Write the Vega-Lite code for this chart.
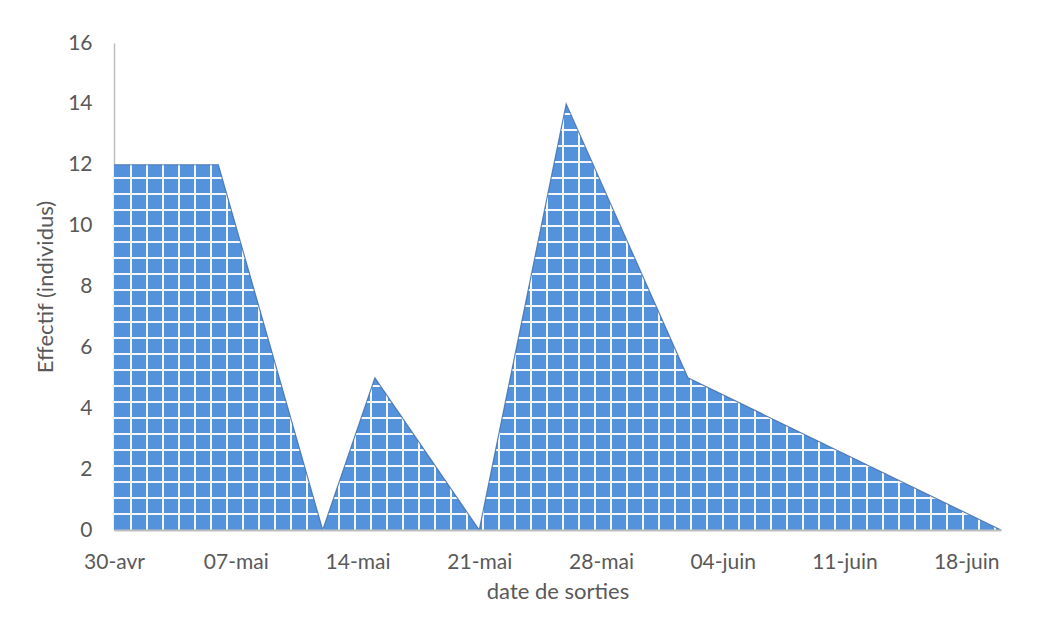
{
  "$schema": "https://vega.github.io/schema/vega-lite/v6.json",
  "autosize": "none",
  "width": 887,
  "height": 487,
  "padding": {"left": 114, "top": 43, "right": 41, "bottom": 89},
  "background": "white",
  "config": {
    "view": {"stroke": null},
    "font": "Lato",
    "axis": {
      "labelFont": "Lato",
      "labelFontSize": 21,
      "labelColor": "#595959",
      "titleFont": "Lato",
      "titleFontSize": 22,
      "titleFontWeight": "normal",
      "titleColor": "#595959",
      "ticks": false,
      "grid": false,
      "domainColor": "#BFBFBF"
    }
  },
  "data": {
    "values": [
      {"date": "2021-04-30", "effectif": 12},
      {"date": "2021-05-06", "effectif": 12},
      {"date": "2021-05-12", "effectif": 0},
      {"date": "2021-05-15", "effectif": 5},
      {"date": "2021-05-21", "effectif": 0},
      {"date": "2021-05-26", "effectif": 14},
      {"date": "2021-06-02", "effectif": 5},
      {"date": "2021-06-20", "effectif": 0}
    ]
  },
  "encoding": {
    "x": {
      "field": "date",
      "type": "temporal",
      "title": "date de sorties",
      "scale": {
        "type": "utc",
        "nice": false,
        "domain": [
          {"year": 2021, "month": 4, "date": 30, "utc": true},
          {"year": 2021, "month": 6, "date": 20, "utc": true}
        ]
      },
      "axis": {
        "values": [
          {"year": 2021, "month": 4, "date": 30, "utc": true},
          {"year": 2021, "month": 5, "date": 7, "utc": true},
          {"year": 2021, "month": 5, "date": 14, "utc": true},
          {"year": 2021, "month": 5, "date": 21, "utc": true},
          {"year": 2021, "month": 5, "date": 28, "utc": true},
          {"year": 2021, "month": 6, "date": 4, "utc": true},
          {"year": 2021, "month": 6, "date": 11, "utc": true},
          {"year": 2021, "month": 6, "date": 18, "utc": true}
        ],
        "labelExpr": "utcFormat(datum.value, '%d') + '-' + ['janv','févr','mars','avr','mai','juin','juil','août','sept','oct','nov','déc'][utcmonth(datum.value)]",
        "labelFlush": false,
        "labelOverlap": false,
        "labelPadding": 21,
        "titlePadding": 9,
        "domainWidth": 2,
        "zindex": 1
      }
    },
    "y": {
      "field": "effectif",
      "type": "quantitative",
      "title": "Effectif (individus)",
      "scale": {"domain": [0, 16], "nice": false},
      "axis": {
        "values": [0, 2, 4, 6, 8, 10, 12, 14, 16],
        "labelPadding": 22,
        "titlePadding": 10,
        "domainWidth": 1.5
      }
    }
  },
  "layer": [
    {
      "mark": {
        "type": "area",
        "interpolate": "linear",
        "fill": {
          "gradient": "linear",
          "x1": 0, "y1": 1, "x2": 0, "y2": -0.051334,
          "stops": [
            {"offset": 0, "color": "#5592DC"},
            {"offset": 0.033482, "color": "#5592DC"}, {"offset": 0.033482, "color": "#F4F7FB"}, {"offset": 0.037946, "color": "#F4F7FB"}, {"offset": 0.037946, "color": "#5592DC"},
            {"offset": 0.069197, "color": "#5592DC"}, {"offset": 0.069197, "color": "#F4F7FB"}, {"offset": 0.073661, "color": "#F4F7FB"}, {"offset": 0.073661, "color": "#5592DC"},
            {"offset": 0.104911, "color": "#5592DC"}, {"offset": 0.104911, "color": "#F4F7FB"}, {"offset": 0.109375, "color": "#F4F7FB"}, {"offset": 0.109375, "color": "#5592DC"},
            {"offset": 0.140625, "color": "#5592DC"}, {"offset": 0.140625, "color": "#F4F7FB"}, {"offset": 0.145089, "color": "#F4F7FB"}, {"offset": 0.145089, "color": "#5592DC"},
            {"offset": 0.176339, "color": "#5592DC"}, {"offset": 0.176339, "color": "#F4F7FB"}, {"offset": 0.180804, "color": "#F4F7FB"}, {"offset": 0.180804, "color": "#5592DC"},
            {"offset": 0.212054, "color": "#5592DC"}, {"offset": 0.212054, "color": "#F4F7FB"}, {"offset": 0.216518, "color": "#F4F7FB"}, {"offset": 0.216518, "color": "#5592DC"},
            {"offset": 0.247768, "color": "#5592DC"}, {"offset": 0.247768, "color": "#F4F7FB"}, {"offset": 0.252232, "color": "#F4F7FB"}, {"offset": 0.252232, "color": "#5592DC"},
            {"offset": 0.283482, "color": "#5592DC"}, {"offset": 0.283482, "color": "#F4F7FB"}, {"offset": 0.287946, "color": "#F4F7FB"}, {"offset": 0.287946, "color": "#5592DC"},
            {"offset": 0.319197, "color": "#5592DC"}, {"offset": 0.319197, "color": "#F4F7FB"}, {"offset": 0.323661, "color": "#F4F7FB"}, {"offset": 0.323661, "color": "#5592DC"},
            {"offset": 0.354911, "color": "#5592DC"}, {"offset": 0.354911, "color": "#F4F7FB"}, {"offset": 0.359375, "color": "#F4F7FB"}, {"offset": 0.359375, "color": "#5592DC"},
            {"offset": 0.390625, "color": "#5592DC"}, {"offset": 0.390625, "color": "#F4F7FB"}, {"offset": 0.395089, "color": "#F4F7FB"}, {"offset": 0.395089, "color": "#5592DC"},
            {"offset": 0.426339, "color": "#5592DC"}, {"offset": 0.426339, "color": "#F4F7FB"}, {"offset": 0.430804, "color": "#F4F7FB"}, {"offset": 0.430804, "color": "#5592DC"},
            {"offset": 0.462054, "color": "#5592DC"}, {"offset": 0.462054, "color": "#F4F7FB"}, {"offset": 0.466518, "color": "#F4F7FB"}, {"offset": 0.466518, "color": "#5592DC"},
            {"offset": 0.497768, "color": "#5592DC"}, {"offset": 0.497768, "color": "#F4F7FB"}, {"offset": 0.502232, "color": "#F4F7FB"}, {"offset": 0.502232, "color": "#5592DC"},
            {"offset": 0.533482, "color": "#5592DC"}, {"offset": 0.533482, "color": "#F4F7FB"}, {"offset": 0.537946, "color": "#F4F7FB"}, {"offset": 0.537946, "color": "#5592DC"},
            {"offset": 0.569197, "color": "#5592DC"}, {"offset": 0.569197, "color": "#F4F7FB"}, {"offset": 0.573661, "color": "#F4F7FB"}, {"offset": 0.573661, "color": "#5592DC"},
            {"offset": 0.604911, "color": "#5592DC"}, {"offset": 0.604911, "color": "#F4F7FB"}, {"offset": 0.609375, "color": "#F4F7FB"}, {"offset": 0.609375, "color": "#5592DC"},
            {"offset": 0.640625, "color": "#5592DC"}, {"offset": 0.640625, "color": "#F4F7FB"}, {"offset": 0.645089, "color": "#F4F7FB"}, {"offset": 0.645089, "color": "#5592DC"},
            {"offset": 0.676339, "color": "#5592DC"}, {"offset": 0.676339, "color": "#F4F7FB"}, {"offset": 0.680804, "color": "#F4F7FB"}, {"offset": 0.680804, "color": "#5592DC"},
            {"offset": 0.712054, "color": "#5592DC"}, {"offset": 0.712054, "color": "#F4F7FB"}, {"offset": 0.716518, "color": "#F4F7FB"}, {"offset": 0.716518, "color": "#5592DC"},
            {"offset": 0.747768, "color": "#5592DC"}, {"offset": 0.747768, "color": "#F4F7FB"}, {"offset": 0.752232, "color": "#F4F7FB"}, {"offset": 0.752232, "color": "#5592DC"},
            {"offset": 0.783482, "color": "#5592DC"}, {"offset": 0.783482, "color": "#F4F7FB"}, {"offset": 0.787946, "color": "#F4F7FB"}, {"offset": 0.787946, "color": "#5592DC"},
            {"offset": 0.819197, "color": "#5592DC"}, {"offset": 0.819197, "color": "#F4F7FB"}, {"offset": 0.823661, "color": "#F4F7FB"}, {"offset": 0.823661, "color": "#5592DC"},
            {"offset": 0.854911, "color": "#5592DC"}, {"offset": 0.854911, "color": "#F4F7FB"}, {"offset": 0.859375, "color": "#F4F7FB"}, {"offset": 0.859375, "color": "#5592DC"},
            {"offset": 0.890625, "color": "#5592DC"}, {"offset": 0.890625, "color": "#F4F7FB"}, {"offset": 0.895089, "color": "#F4F7FB"}, {"offset": 0.895089, "color": "#5592DC"},
            {"offset": 0.926339, "color": "#5592DC"}, {"offset": 0.926339, "color": "#F4F7FB"}, {"offset": 0.930804, "color": "#F4F7FB"}, {"offset": 0.930804, "color": "#5592DC"},
            {"offset": 1, "color": "#5592DC"}
          ]
        }
      }
    },
    {
      "mark": {
        "type": "area",
        "interpolate": "linear",
        "fill": {
          "gradient": "linear",
          "x1": 0, "y1": 0, "x2": 1.010147, "y2": 0,
          "stops": [
            {"offset": 0, "color": "rgba(244,247,251,0)"},
            {"offset": 0.017857, "color": "rgba(244,247,251,0)"}, {"offset": 0.017857, "color": "#F4F7FB"}, {"offset": 0.020089, "color": "#F4F7FB"}, {"offset": 0.020089, "color": "rgba(244,247,251,0)"},
            {"offset": 0.035714, "color": "rgba(244,247,251,0)"}, {"offset": 0.035714, "color": "#F4F7FB"}, {"offset": 0.037946, "color": "#F4F7FB"}, {"offset": 0.037946, "color": "rgba(244,247,251,0)"},
            {"offset": 0.053571, "color": "rgba(244,247,251,0)"}, {"offset": 0.053571, "color": "#F4F7FB"}, {"offset": 0.055804, "color": "#F4F7FB"}, {"offset": 0.055804, "color": "rgba(244,247,251,0)"},
            {"offset": 0.071429, "color": "rgba(244,247,251,0)"}, {"offset": 0.071429, "color": "#F4F7FB"}, {"offset": 0.073661, "color": "#F4F7FB"}, {"offset": 0.073661, "color": "rgba(244,247,251,0)"},
            {"offset": 0.089286, "color": "rgba(244,247,251,0)"}, {"offset": 0.089286, "color": "#F4F7FB"}, {"offset": 0.091518, "color": "#F4F7FB"}, {"offset": 0.091518, "color": "rgba(244,247,251,0)"},
            {"offset": 0.107143, "color": "rgba(244,247,251,0)"}, {"offset": 0.107143, "color": "#F4F7FB"}, {"offset": 0.109375, "color": "#F4F7FB"}, {"offset": 0.109375, "color": "rgba(244,247,251,0)"},
            {"offset": 0.125, "color": "rgba(244,247,251,0)"}, {"offset": 0.125, "color": "#F4F7FB"}, {"offset": 0.127232, "color": "#F4F7FB"}, {"offset": 0.127232, "color": "rgba(244,247,251,0)"},
            {"offset": 0.142857, "color": "rgba(244,247,251,0)"}, {"offset": 0.142857, "color": "#F4F7FB"}, {"offset": 0.145089, "color": "#F4F7FB"}, {"offset": 0.145089, "color": "rgba(244,247,251,0)"},
            {"offset": 0.160714, "color": "rgba(244,247,251,0)"}, {"offset": 0.160714, "color": "#F4F7FB"}, {"offset": 0.162946, "color": "#F4F7FB"}, {"offset": 0.162946, "color": "rgba(244,247,251,0)"},
            {"offset": 0.178571, "color": "rgba(244,247,251,0)"}, {"offset": 0.178571, "color": "#F4F7FB"}, {"offset": 0.180804, "color": "#F4F7FB"}, {"offset": 0.180804, "color": "rgba(244,247,251,0)"},
            {"offset": 0.196429, "color": "rgba(244,247,251,0)"}, {"offset": 0.196429, "color": "#F4F7FB"}, {"offset": 0.198661, "color": "#F4F7FB"}, {"offset": 0.198661, "color": "rgba(244,247,251,0)"},
            {"offset": 0.214286, "color": "rgba(244,247,251,0)"}, {"offset": 0.214286, "color": "#F4F7FB"}, {"offset": 0.216518, "color": "#F4F7FB"}, {"offset": 0.216518, "color": "rgba(244,247,251,0)"},
            {"offset": 0.232143, "color": "rgba(244,247,251,0)"}, {"offset": 0.232143, "color": "#F4F7FB"}, {"offset": 0.234375, "color": "#F4F7FB"}, {"offset": 0.234375, "color": "rgba(244,247,251,0)"},
            {"offset": 0.25, "color": "rgba(244,247,251,0)"}, {"offset": 0.25, "color": "#F4F7FB"}, {"offset": 0.252232, "color": "#F4F7FB"}, {"offset": 0.252232, "color": "rgba(244,247,251,0)"},
            {"offset": 0.267857, "color": "rgba(244,247,251,0)"}, {"offset": 0.267857, "color": "#F4F7FB"}, {"offset": 0.270089, "color": "#F4F7FB"}, {"offset": 0.270089, "color": "rgba(244,247,251,0)"},
            {"offset": 0.285714, "color": "rgba(244,247,251,0)"}, {"offset": 0.285714, "color": "#F4F7FB"}, {"offset": 0.287946, "color": "#F4F7FB"}, {"offset": 0.287946, "color": "rgba(244,247,251,0)"},
            {"offset": 0.303571, "color": "rgba(244,247,251,0)"}, {"offset": 0.303571, "color": "#F4F7FB"}, {"offset": 0.305804, "color": "#F4F7FB"}, {"offset": 0.305804, "color": "rgba(244,247,251,0)"},
            {"offset": 0.321429, "color": "rgba(244,247,251,0)"}, {"offset": 0.321429, "color": "#F4F7FB"}, {"offset": 0.323661, "color": "#F4F7FB"}, {"offset": 0.323661, "color": "rgba(244,247,251,0)"},
            {"offset": 0.339286, "color": "rgba(244,247,251,0)"}, {"offset": 0.339286, "color": "#F4F7FB"}, {"offset": 0.341518, "color": "#F4F7FB"}, {"offset": 0.341518, "color": "rgba(244,247,251,0)"},
            {"offset": 0.357143, "color": "rgba(244,247,251,0)"}, {"offset": 0.357143, "color": "#F4F7FB"}, {"offset": 0.359375, "color": "#F4F7FB"}, {"offset": 0.359375, "color": "rgba(244,247,251,0)"},
            {"offset": 0.375, "color": "rgba(244,247,251,0)"}, {"offset": 0.375, "color": "#F4F7FB"}, {"offset": 0.377232, "color": "#F4F7FB"}, {"offset": 0.377232, "color": "rgba(244,247,251,0)"},
            {"offset": 0.392857, "color": "rgba(244,247,251,0)"}, {"offset": 0.392857, "color": "#F4F7FB"}, {"offset": 0.395089, "color": "#F4F7FB"}, {"offset": 0.395089, "color": "rgba(244,247,251,0)"},
            {"offset": 0.410714, "color": "rgba(244,247,251,0)"}, {"offset": 0.410714, "color": "#F4F7FB"}, {"offset": 0.412946, "color": "#F4F7FB"}, {"offset": 0.412946, "color": "rgba(244,247,251,0)"},
            {"offset": 0.428571, "color": "rgba(244,247,251,0)"}, {"offset": 0.428571, "color": "#F4F7FB"}, {"offset": 0.430804, "color": "#F4F7FB"}, {"offset": 0.430804, "color": "rgba(244,247,251,0)"},
            {"offset": 0.446429, "color": "rgba(244,247,251,0)"}, {"offset": 0.446429, "color": "#F4F7FB"}, {"offset": 0.448661, "color": "#F4F7FB"}, {"offset": 0.448661, "color": "rgba(244,247,251,0)"},
            {"offset": 0.464286, "color": "rgba(244,247,251,0)"}, {"offset": 0.464286, "color": "#F4F7FB"}, {"offset": 0.466518, "color": "#F4F7FB"}, {"offset": 0.466518, "color": "rgba(244,247,251,0)"},
            {"offset": 0.482143, "color": "rgba(244,247,251,0)"}, {"offset": 0.482143, "color": "#F4F7FB"}, {"offset": 0.484375, "color": "#F4F7FB"}, {"offset": 0.484375, "color": "rgba(244,247,251,0)"},
            {"offset": 0.5, "color": "rgba(244,247,251,0)"}, {"offset": 0.5, "color": "#F4F7FB"}, {"offset": 0.502232, "color": "#F4F7FB"}, {"offset": 0.502232, "color": "rgba(244,247,251,0)"},
            {"offset": 0.517857, "color": "rgba(244,247,251,0)"}, {"offset": 0.517857, "color": "#F4F7FB"}, {"offset": 0.520089, "color": "#F4F7FB"}, {"offset": 0.520089, "color": "rgba(244,247,251,0)"},
            {"offset": 0.535714, "color": "rgba(244,247,251,0)"}, {"offset": 0.535714, "color": "#F4F7FB"}, {"offset": 0.537946, "color": "#F4F7FB"}, {"offset": 0.537946, "color": "rgba(244,247,251,0)"},
            {"offset": 0.553571, "color": "rgba(244,247,251,0)"}, {"offset": 0.553571, "color": "#F4F7FB"}, {"offset": 0.555804, "color": "#F4F7FB"}, {"offset": 0.555804, "color": "rgba(244,247,251,0)"},
            {"offset": 0.571429, "color": "rgba(244,247,251,0)"}, {"offset": 0.571429, "color": "#F4F7FB"}, {"offset": 0.573661, "color": "#F4F7FB"}, {"offset": 0.573661, "color": "rgba(244,247,251,0)"},
            {"offset": 0.589286, "color": "rgba(244,247,251,0)"}, {"offset": 0.589286, "color": "#F4F7FB"}, {"offset": 0.591518, "color": "#F4F7FB"}, {"offset": 0.591518, "color": "rgba(244,247,251,0)"},
            {"offset": 0.607143, "color": "rgba(244,247,251,0)"}, {"offset": 0.607143, "color": "#F4F7FB"}, {"offset": 0.609375, "color": "#F4F7FB"}, {"offset": 0.609375, "color": "rgba(244,247,251,0)"},
            {"offset": 0.625, "color": "rgba(244,247,251,0)"}, {"offset": 0.625, "color": "#F4F7FB"}, {"offset": 0.627232, "color": "#F4F7FB"}, {"offset": 0.627232, "color": "rgba(244,247,251,0)"},
            {"offset": 0.642857, "color": "rgba(244,247,251,0)"}, {"offset": 0.642857, "color": "#F4F7FB"}, {"offset": 0.645089, "color": "#F4F7FB"}, {"offset": 0.645089, "color": "rgba(244,247,251,0)"},
            {"offset": 0.660714, "color": "rgba(244,247,251,0)"}, {"offset": 0.660714, "color": "#F4F7FB"}, {"offset": 0.662946, "color": "#F4F7FB"}, {"offset": 0.662946, "color": "rgba(244,247,251,0)"},
            {"offset": 0.678571, "color": "rgba(244,247,251,0)"}, {"offset": 0.678571, "color": "#F4F7FB"}, {"offset": 0.680804, "color": "#F4F7FB"}, {"offset": 0.680804, "color": "rgba(244,247,251,0)"},
            {"offset": 0.696429, "color": "rgba(244,247,251,0)"}, {"offset": 0.696429, "color": "#F4F7FB"}, {"offset": 0.698661, "color": "#F4F7FB"}, {"offset": 0.698661, "color": "rgba(244,247,251,0)"},
            {"offset": 0.714286, "color": "rgba(244,247,251,0)"}, {"offset": 0.714286, "color": "#F4F7FB"}, {"offset": 0.716518, "color": "#F4F7FB"}, {"offset": 0.716518, "color": "rgba(244,247,251,0)"},
            {"offset": 0.732143, "color": "rgba(244,247,251,0)"}, {"offset": 0.732143, "color": "#F4F7FB"}, {"offset": 0.734375, "color": "#F4F7FB"}, {"offset": 0.734375, "color": "rgba(244,247,251,0)"},
            {"offset": 0.75, "color": "rgba(244,247,251,0)"}, {"offset": 0.75, "color": "#F4F7FB"}, {"offset": 0.752232, "color": "#F4F7FB"}, {"offset": 0.752232, "color": "rgba(244,247,251,0)"},
            {"offset": 0.767857, "color": "rgba(244,247,251,0)"}, {"offset": 0.767857, "color": "#F4F7FB"}, {"offset": 0.770089, "color": "#F4F7FB"}, {"offset": 0.770089, "color": "rgba(244,247,251,0)"},
            {"offset": 0.785714, "color": "rgba(244,247,251,0)"}, {"offset": 0.785714, "color": "#F4F7FB"}, {"offset": 0.787946, "color": "#F4F7FB"}, {"offset": 0.787946, "color": "rgba(244,247,251,0)"},
            {"offset": 0.803571, "color": "rgba(244,247,251,0)"}, {"offset": 0.803571, "color": "#F4F7FB"}, {"offset": 0.805804, "color": "#F4F7FB"}, {"offset": 0.805804, "color": "rgba(244,247,251,0)"},
            {"offset": 0.821429, "color": "rgba(244,247,251,0)"}, {"offset": 0.821429, "color": "#F4F7FB"}, {"offset": 0.823661, "color": "#F4F7FB"}, {"offset": 0.823661, "color": "rgba(244,247,251,0)"},
            {"offset": 0.839286, "color": "rgba(244,247,251,0)"}, {"offset": 0.839286, "color": "#F4F7FB"}, {"offset": 0.841518, "color": "#F4F7FB"}, {"offset": 0.841518, "color": "rgba(244,247,251,0)"},
            {"offset": 0.857143, "color": "rgba(244,247,251,0)"}, {"offset": 0.857143, "color": "#F4F7FB"}, {"offset": 0.859375, "color": "#F4F7FB"}, {"offset": 0.859375, "color": "rgba(244,247,251,0)"},
            {"offset": 0.875, "color": "rgba(244,247,251,0)"}, {"offset": 0.875, "color": "#F4F7FB"}, {"offset": 0.877232, "color": "#F4F7FB"}, {"offset": 0.877232, "color": "rgba(244,247,251,0)"},
            {"offset": 0.892857, "color": "rgba(244,247,251,0)"}, {"offset": 0.892857, "color": "#F4F7FB"}, {"offset": 0.895089, "color": "#F4F7FB"}, {"offset": 0.895089, "color": "rgba(244,247,251,0)"},
            {"offset": 0.910714, "color": "rgba(244,247,251,0)"}, {"offset": 0.910714, "color": "#F4F7FB"}, {"offset": 0.912946, "color": "#F4F7FB"}, {"offset": 0.912946, "color": "rgba(244,247,251,0)"},
            {"offset": 0.928571, "color": "rgba(244,247,251,0)"}, {"offset": 0.928571, "color": "#F4F7FB"}, {"offset": 0.930804, "color": "#F4F7FB"}, {"offset": 0.930804, "color": "rgba(244,247,251,0)"},
            {"offset": 0.946429, "color": "rgba(244,247,251,0)"}, {"offset": 0.946429, "color": "#F4F7FB"}, {"offset": 0.948661, "color": "#F4F7FB"}, {"offset": 0.948661, "color": "rgba(244,247,251,0)"},
            {"offset": 0.964286, "color": "rgba(244,247,251,0)"}, {"offset": 0.964286, "color": "#F4F7FB"}, {"offset": 0.966518, "color": "#F4F7FB"}, {"offset": 0.966518, "color": "rgba(244,247,251,0)"},
            {"offset": 0.982143, "color": "rgba(244,247,251,0)"}, {"offset": 0.982143, "color": "#F4F7FB"}, {"offset": 0.984375, "color": "#F4F7FB"}, {"offset": 0.984375, "color": "rgba(244,247,251,0)"},
            {"offset": 1, "color": "rgba(244,247,251,0)"}
          ]
        }
      }
    },
    {
      "mark": {"type": "line", "interpolate": "linear", "stroke": "#3F6CA8", "strokeWidth": 1.2, "strokeOpacity": 0.8}
    }
  ]
}
